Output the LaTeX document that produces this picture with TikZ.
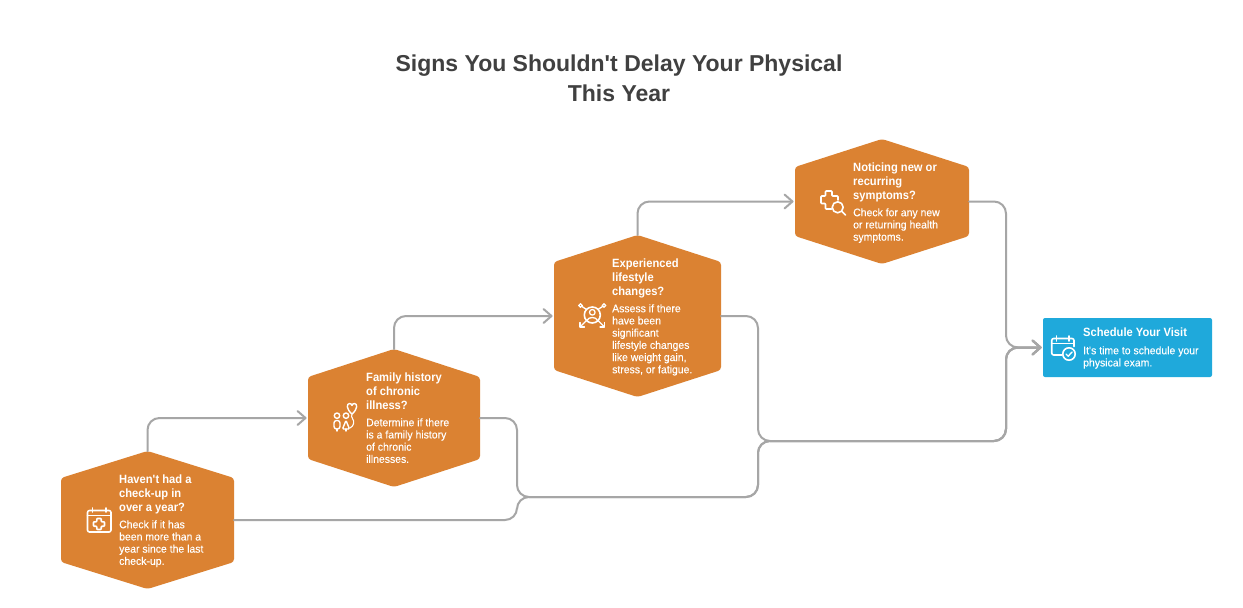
\documentclass[tikz,border=0pt]{standalone}
\usepackage{fontspec}
\setmainfont{Liberation Sans}
\usetikzlibrary{arrows.meta,calc}
\definecolor{hexfill}{HTML}{DB8232}
\definecolor{bluefill}{HTML}{1FA9DB}
\definecolor{linegrey}{HTML}{A6A6A6}
\definecolor{titlegrey}{HTML}{404040}
\newfontfamily\headfont[FakeStretch=0.93]{Liberation Sans}
\newfontfamily\bodyfont[FakeStretch=0.95,FakeBold=0.12]{Liberation Sans}
\tikzset{
 hexbox/.style={inner sep=0pt,outer sep=0pt,draw=none},
 titletext/.style={font=\bfseries\fontsize{23}{30}\selectfont,text=titlegrey,align=center,inner sep=0pt},
 headtext/.style={font=\headfont\bfseries\fontsize{12}{14}\selectfont,text=white,align=left,anchor=north west,inner sep=0pt},
 bodytext/.style={font=\bodyfont\fontsize{11}{12.2}\selectfont,text=white,align=left,anchor=north west,inner sep=0pt},
 link/.style={draw=linegrey,line width=2pt,rounded corners=12pt,line cap=round},
 arrowlink/.style={link,-{Straight Barb[length=8pt,width=14pt,line width=2pt,round]},shorten >=1.5pt},
 icon/.style={draw=white,line width=1.6pt,line cap=round,line join=round},
}
\newcommand{\hexnode}[6]{%
 \node[hexbox,minimum width=#4pt,minimum height=#5pt] (#1) at (#2,#3) {};
 \fill[hexfill,rounded corners=3pt] (#1.north) -- ([yshift=-#6pt]#1.north east) -- ([yshift=#6pt]#1.south east) -- (#1.south) -- ([yshift=#6pt]#1.south west) -- ([yshift=-#6pt]#1.north west) -- cycle;
}
\begin{document}
\begin{tikzpicture}[x=1pt,y=-1pt]
\useasboundingbox (0,0) rectangle (1243,608);
\fill[white] (0,0) rectangle (1243,608);
\node[titletext] (title) at (619,78) {Signs You Shouldn\textquotesingle t Delay Your Physical\\This Year};

\hexnode{ha}{147.5}{520}{173}{138}{27}
\hexnode{hb}{394}{418}{172}{138}{28}
\hexnode{hc}{637.5}{316}{167}{162}{27}
\hexnode{hd}{882}{201.5}{174}{125}{28}
\node[fill=bluefill,rounded corners=2pt,inner sep=0pt,outer sep=0pt,minimum width=169pt,minimum height=59pt] (blue) at (1127.5,347.5) {};

\coordinate (ja) at (1006,347.5);
\coordinate (jb) at (758,441);
\coordinate (jc) at (1006,441);
\coordinate (jd) at (517,497);
\coordinate (je) at (758,497);

\draw[arrowlink] (ha.north) |- (hb.west);
\draw[arrowlink] (hb.north) |- (hc.west);
\draw[arrowlink] (hc.north) |- (hd.west);
\draw[arrowlink] (hd.east) -| (ja) -- (blue.west);
\draw[arrowlink] (hc.east) -| (jb) -- (jc) -- (ja) -- (blue.west);
\draw[arrowlink] (hb.east) -| (jd) -- (je) -- (jb) -- (jc) -- (ja) -- (blue.west);
\draw[arrowlink] (ha.east) -| (jd) -- (je) -- (jb) -- (jc) -- (ja) -- (blue.west);

\node[headtext] (hat) at (119,473.2) {\strut Haven\textquotesingle t had a\\check-up in\\over a year?};
\node[bodytext] (hab) at (119,519.5) {\strut Check if it has\\been more than a\\year since the last\\check-up.};
\node[headtext] (hbt) at (366,371.2) {\strut Family history\\of chronic\\illness?};
\node[bodytext] (hbb) at (366,417.5) {\strut Determine if there\\is a family history\\of chronic\\illnesses.};
\node[headtext] (hct) at (612,257.2) {\strut Experienced\\lifestyle\\changes?};
\node[bodytext] (hcb) at (612,303.5) {\strut Assess if there\\have been\\significant\\lifestyle changes\\like weight gain,\\stress, or fatigue.};
\node[headtext] (hdt) at (853,161.2) {\strut Noticing new or\\recurring\\symptoms?};
\node[bodytext] (hdb) at (853,207.5) {\strut Check for any new\\or returning health\\symptoms.};
\node[headtext] (blt) at (1083,326.2) {\strut Schedule Your Visit};
\node[bodytext] (blb) at (1083,345.5) {\strut It\textquotesingle s time to schedule your\\physical exam.};

% calendar with plus
\draw[icon,rounded corners=2pt] (87.5,510.5) rectangle (111,532);
\draw[icon] (87.5,515.5) -- (111,515.5) (92.5,508) -- (92.5,512) (105.7,508) -- (105.7,512);
\draw[icon,rounded corners=0.8pt] (96.8,518.5) -- (101.2,518.5) -- (101.2,521.8) -- (104.5,521.8) -- (104.5,526.2) -- (101.2,526.2) -- (101.2,529.5) -- (96.8,529.5) -- (96.8,526.2) -- (93.5,526.2) -- (93.5,521.8) -- (96.8,521.8) -- cycle;

% family
\draw[icon,line width=1.4pt] (337,415.7) circle (2.7) (346,415.7) circle (2.7);
\draw[icon,line width=1.4pt,rounded corners=2.5pt] (334,429) -- (334,420.5) -- (340,420.5) -- (340,429) -- cycle;
\draw[icon,line width=1.4pt,rounded corners=1pt] (346,420.5) -- (342.5,429) -- (349.5,429) -- cycle;
\draw[icon,line width=1.4pt] (346,429) -- (346,431) (337,429) -- (337,431);
\draw[icon,line width=1.4pt] (352,414) .. controls (346,409) and (346.5,403.5) .. (349.5,403.5) .. controls (351,403.5) and (352,404.5) .. (352,405.5) .. controls (352,404.5) and (353,403.5) .. (354.5,403.5) .. controls (357.5,403.5) and (358,409) .. (352,414);
\draw[icon,line width=1.1pt] (352,414) .. controls (350,418) and (355,419) .. (353.5,424) .. controls (353,426) and (351.5,427) .. (350,428);

% lifestyle person
\draw[icon] (592.3,315) circle (8);
\draw[icon,line width=1.3pt] (592.3,312.3) circle (2.8);
\draw[icon,line width=1.3pt] (587,320.5) .. controls (588,316.5) and (596.5,316.5) .. (597.5,320.5);
\draw[icon,line width=1.3pt] (586.5,309.5) -- (582,306.5) (598,309.5) -- (602.5,306.5) (586.5,320.5) -- (581,326) (598,320.5) -- (603.5,326);
\draw[icon,line width=1.3pt] (580.5,305.5) circle (1.8) (604,305.5) circle (1.8);
\draw[icon,line width=1.3pt] (580,322.5) -- (580,327) -- (584.5,327) (604.5,322.5) -- (604.5,327) -- (600,327);

% plus and magnifier
\draw[icon,rounded corners=0.8pt] (831.5,209) -- (825.5,209) -- (825.5,203.5) -- (821,203.5) -- (821,196) -- (825.5,196) -- (825.5,191) -- (832,191) -- (832,196) -- (838,196) -- (838,200);
\draw[icon] (837.7,207.3) circle (5.5);
\draw[icon] (842,211.5) -- (845.5,215);

% blue calendar with check
\draw[icon,rounded corners=2pt] (1062,355) -- (1051.7,355) -- (1051.7,338.5) -- (1074,338.5) -- (1074,346.5);
\draw[icon] (1051.7,343.5) -- (1074,343.5) (1056.5,336) -- (1056.5,341) (1069,336) -- (1069,341);
\draw[icon] (1069,354) circle (6.2);
\draw[icon,line width=1.4pt] (1066,354) -- (1068.2,356.2) -- (1072,352);
\end{tikzpicture}
\end{document}
